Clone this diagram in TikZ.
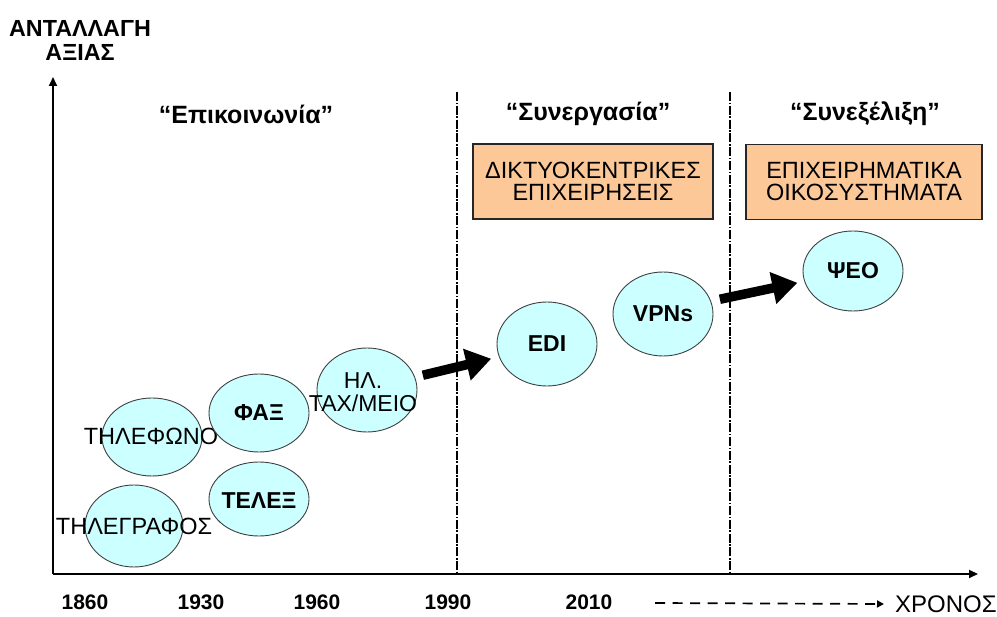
\documentclass[tikz,border=0pt]{standalone}
\usepackage{fontspec}
\setmainfont{Liberation Sans}
\usetikzlibrary{shapes.geometric,arrows.meta}
\definecolor{bubblefill}{HTML}{CCFFFF}
\definecolor{boxfill}{HTML}{FCC898}
\newcommand{\fs}[1]{\fontsize{#1}{#1}\selectfont}
\tikzset{
  axisline/.style={line width=2.2pt, -{Triangle[length=9pt,width=8pt]}},
  eraline/.style={line width=2.4pt, dash pattern=on 9pt off 1.6pt on 1.6pt off 1.6pt},
  bubble/.style={ellipse, draw=black!75, line width=0.9pt, fill=bubblefill, inner sep=0pt},
  bubtext/.style={font=\fs{23.5}, align=center, inner sep=0pt},
  bubbold/.style={font=\fs{23}\bfseries, align=center, inner sep=0pt},
  erabox/.style={draw=black!85, line width=1.3pt, fill=boxfill, align=center,
    font=\fontsize{23.5}{22}\selectfont, minimum height=75pt, inner sep=0pt},
  eratitle/.style={font=\fs{25}\bfseries, inner sep=0pt},
  yearlbl/.style={font=\fs{21}\bfseries, inner sep=0pt},
  bigarrow/.style={line width=9.5pt, -{Triangle[length=25pt,width=31pt]}},
}
\begin{document}
\begin{tikzpicture}[x=1pt, y=-1pt]
\useasboundingbox (0,0) rectangle (997,617);

% axes
\coordinate (origin) at (53,574);
\coordinate (ytop) at (53,77);
\coordinate (xend) at (978,574);
\draw[axisline] (origin) -- (ytop);
\draw[axisline] (origin) -- (xend);

\node[font=\fontsize{23.3}{24}\selectfont\bfseries, align=center, inner sep=0pt] (ylabel) at (80,40)
  {ΑΝΤΑΛΛΑΓΗ\\ΑΞΙΑΣ};

% era separators
\coordinate (sepA top) at (457,92);
\coordinate (sepA bot) at (457,574);
\coordinate (sepB top) at (730,92);
\coordinate (sepB bot) at (730,574);
\draw[eraline] (sepA top) -- (sepA bot);
\draw[eraline] (sepB top) -- (sepB bot);

% era titles
\node[eratitle] (t1) at (246,114) {“Επικοινωνία”};
\node[eratitle] (t2) at (588,114) {“Συνεργασία”};
\node[eratitle] (t3) at (865,114) {“Συνεξέλιξη”};

% era boxes
\node[erabox, minimum width=240pt] (box1) at (593,181.5)
  {ΔΙΚΤΥΟΚΕΝΤΡΙΚΕΣ\\ΕΠΙΧΕΙΡΗΣΕΙΣ};
\node[erabox, minimum width=236pt] (box2) at (864,182)
  {ΕΠΙΧΕΙΡΗΜΑΤΙΚΑ\\ΟΙΚΟΣΥΣΤΗΜΑΤΑ};

% technologies
\node[bubble, minimum width=100pt, minimum height=78pt] (tel) at (152,437) {};
\node[bubtext] (tel txt) at (151,436) {ΤΗΛΕΦΩΝΟ};
\node[bubble, minimum width=100pt, minimum height=78pt] (fax) at (259,413) {};
\node[bubbold] (fax txt) at (fax) {ΦΑΞ};
\node[bubble, minimum width=100pt, minimum height=84pt] (hl) at (367,390) {};
\node[font=\fontsize{23}{23}\selectfont, align=center, inner sep=0pt] (hl txt) at (363,392)
  {ΗΛ.\\ΤΑΧ/ΜΕΙΟ};
\node[bubble, minimum width=100pt, minimum height=74pt] (telex) at (259,499) {};
\node[bubbold] (telex txt) at (259,501) {ΤΕΛΕΞ};
\node[bubble, minimum width=98pt, minimum height=82pt] (tgraph) at (134,526) {};
\node[bubtext] (tgraph txt) at (tgraph) {ΤΗΛΕΓΡΑΦΟΣ};
\node[bubble, minimum width=100pt, minimum height=84pt] (edi) at (547,344) {};
\node[bubbold] (edi txt) at (edi) {EDI};
\node[bubble, minimum width=100pt, minimum height=84pt] (vpns) at (663,314) {};
\node[bubbold] (vpns txt) at (vpns) {VPNs};
\node[bubble, minimum width=100pt, minimum height=80pt] (psi) at (853,271) {};
\node[bubbold] (psi txt) at (psi) {ΨΕΟ};

% transitions between eras
\draw[bigarrow, shorten <=8pt, shorten >=8pt] (hl.15) -- (edi.195);
\draw[bigarrow, shorten <=9pt, shorten >=7pt] (vpns.15) -- (psi.192);

% time axis labels
\node[yearlbl] (y1860) at (85,602) {1860};
\node[yearlbl] (y1930) at (201,602) {1930};
\node[yearlbl] (y1960) at (317,602) {1960};
\node[yearlbl] (y1990) at (448,602) {1990};
\node[yearlbl] (y2010) at (589,602) {2010};
\node[font=\fs{24}, anchor=west, inner sep=0pt] (time) at (895,604) {ΧΡΟΝΟΣ};
\coordinate (dash start) at (655,603);
\draw[line width=1.7pt, dash pattern=on 10pt off 7.5pt, -{Triangle[length=7pt,width=7pt]}]
  (dash start) -- ([xshift=-11pt]time.west);
\end{tikzpicture}
\end{document}
